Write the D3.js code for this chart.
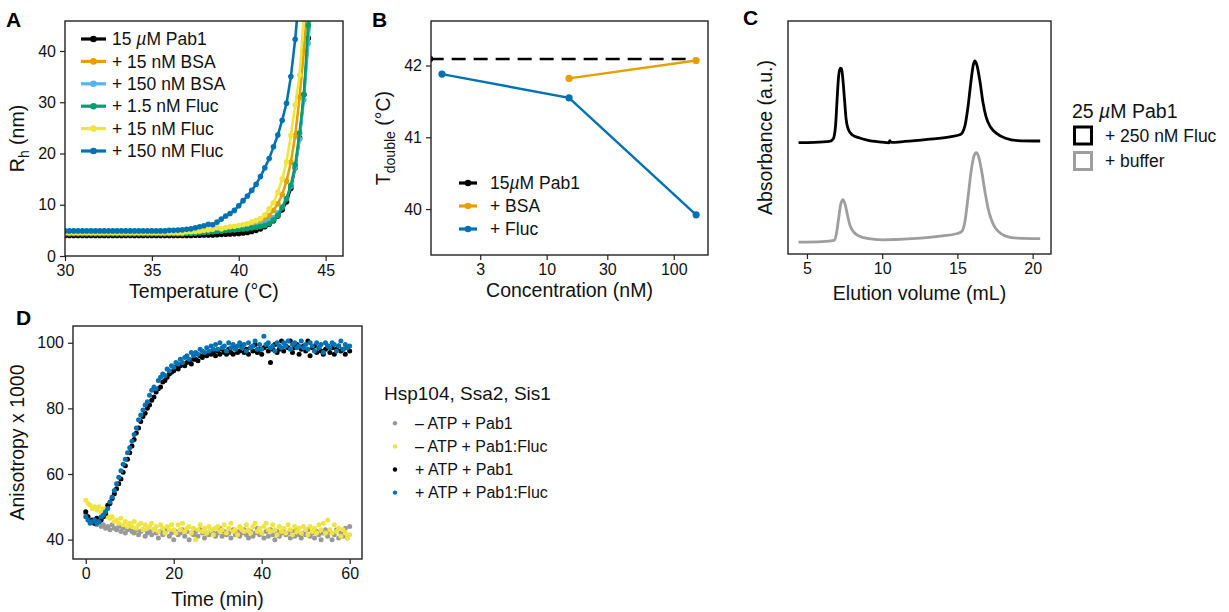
<!DOCTYPE html>
<html>
<head>
<meta charset="utf-8">
<script src="https://cdn.jsdelivr.net/npm/d3@7"></script>
<style>
body { margin: 0; background: #fff; }
svg { font-family: "Liberation Sans", Arial, Helvetica, sans-serif; }
</style>
</head>
<body>
<svg id="fig" width="1229" height="612"></svg>
<script>
// ---- panel A: hydrodynamic radius vs temperature ----
var temps = [30, 30.25, 30.5, 30.75, 31, 31.25, 31.5, 31.75, 32, 32.25, 32.5, 32.75, 33, 33.25, 33.5, 33.75,
  34, 34.25, 34.5, 34.75, 35, 35.25, 35.5, 35.75, 36, 36.25, 36.5, 36.75, 37, 37.25, 37.5, 37.75,
  38, 38.25, 38.5, 38.75, 39, 39.25, 39.5, 39.75, 40, 40.25, 40.5, 40.75, 41, 41.25, 41.5, 41.75,
  42, 42.25, 42.5, 42.75, 43, 43.25, 43.5, 43.75, 44, 44.25];

var rhPab1 = [4.0, 4.0, 4.0, 4.0, 4.0, 4.0, 4.0, 4.0, 4.0, 4.0, 4.0, 4.0, 4.0, 4.0, 4.0, 4.0,
  4.0, 4.0, 4.0, 4.0, 4.0, 4.0, 4.0, 4.0, 4.0, 4.0, 4.0, 4.0, 4.0, 4.0, 4.05, 4.05,
  4.1, 4.1, 4.1, 4.15, 4.2, 4.25, 4.3, 4.35, 4.4, 4.5, 4.6, 4.8, 5.0, 5.3, 5.7, 6.2,
  6.9, 7.8, 9.0, 10.6, 13.2, 17.2, 23.0, 31.5, 42.5, 53];
var rhBsa15 = [4.4, 4.4, 4.4, 4.4, 4.4, 4.4, 4.4, 4.4, 4.4, 4.4, 4.4, 4.4, 4.4, 4.4, 4.4, 4.4,
  4.4, 4.4, 4.4, 4.4, 4.4, 4.4, 4.4, 4.4, 4.4, 4.4, 4.4, 4.4, 4.45, 4.5, 4.55, 4.6,
  4.7, 4.75, 4.8, 4.9, 5.0, 5.1, 5.2, 5.3, 5.45, 5.6, 5.75, 5.95, 6.2, 6.6, 7.1, 7.9,
  8.9, 10.2, 12.0, 14.6, 18.3, 23.5, 31, 40, 51];
var rhBsa150 = [4.8, 4.8, 4.8, 4.8, 4.8, 4.8, 4.8, 4.8, 4.8, 4.8, 4.8, 4.8, 4.8, 4.8, 4.8, 4.8,
  4.8, 4.8, 4.8, 4.8, 4.8, 4.8, 4.8, 4.8, 4.8, 4.8, 4.8, 4.8, 4.85, 4.85, 4.9, 4.9,
  4.95, 5.0, 5.0, 5.05, 5.1, 5.15, 5.2, 5.25, 5.3, 5.4, 5.5, 5.6, 5.75, 6.0, 6.4, 6.9,
  7.5, 8.4, 9.6, 11.2, 13.6, 17.3, 22.8, 30.5, 41.5, 52];
var rhFluc1 = [4.4, 4.4, 4.4, 4.4, 4.4, 4.4, 4.4, 4.4, 4.4, 4.4, 4.4, 4.4, 4.4, 4.4, 4.4, 4.4,
  4.4, 4.4, 4.4, 4.4, 4.4, 4.4, 4.4, 4.4, 4.4, 4.4, 4.4, 4.4, 4.45, 4.5, 4.55, 4.6,
  4.65, 4.7, 4.8, 4.85, 4.9, 5.0, 5.05, 5.1, 5.2, 5.25, 5.35, 5.45, 5.6, 5.75, 5.95, 6.3,
  7.0, 7.9, 9.4, 11.2, 13.8, 17.8, 24, 31.5, 45, 55];
var rhFluc15 = [4.55, 4.55, 4.55, 4.55, 4.55, 4.55, 4.55, 4.55, 4.55, 4.55, 4.55, 4.55, 4.55, 4.55, 4.55, 4.55,
  4.55, 4.55, 4.55, 4.55, 4.55, 4.55, 4.55, 4.55, 4.55, 4.55, 4.55, 4.55, 4.7, 4.75, 4.8, 4.9,
  5.0, 5.1, 5.2, 5.5, 5.3, 5.55, 5.7, 5.8, 5.95, 6.1, 6.3, 6.6, 6.9, 7.3, 8.0, 9.2,
  10.4, 12.5, 15.0, 18.4, 23.5, 29.5, 35.3, 47];
var rhFluc150 = [4.9, 4.9, 4.9, 4.9, 4.9, 4.9, 4.9, 4.9, 4.9, 4.9, 4.9, 4.9, 4.9, 4.9, 4.9, 4.9,
  4.9, 4.9, 4.9, 4.9, 4.9, 4.9, 4.9, 4.9, 5.0, 5.0, 5.05, 5.1, 5.2, 5.3, 5.5, 5.7,
  5.9, 6.2, 6.1, 6.6, 7.2, 7.8, 8.3, 8.9, 9.8, 10.8, 11.7, 12.8, 14.0, 15.5, 17.2, 19.0,
  21.3, 23.6, 26.5, 29.8, 35.0, 42.3, 52];

var seriesA = [
  { name: "15 µM Pab1", values: rhPab1, color: "#000000" },
  { name: "+ 15 nM BSA", values: rhBsa15, color: "#E69F00" },
  { name: "+ 150 nM BSA", values: rhBsa150, color: "#56B4E9" },
  { name: "+ 1.5 nM Fluc", values: rhFluc1, color: "#009E73" },
  { name: "+ 15 nM Fluc", values: rhFluc15, color: "#F0E442" },
  { name: "+ 150 nM Fluc", values: rhFluc150, color: "#0072B2" }
];

// ---- panel B: doubling temperature vs concentration ----
var pab1Conc = [1.2];
var pab1Tdouble = [42.09];
var bsaConc = [15, 150];
var bsaTdouble = [41.82, 42.07];
var flucConc = [1.5, 15, 150];
var flucTdouble = [41.88, 41.55, 39.92];

// ---- panel C: size exclusion traces ----
var secFluc = [[4.44, 47.8], [5.5, 47.9], [6.5, 48.3], [6.75, 49.5], [6.9, 55], [7.0, 66], [7.1, 76], [7.2, 79.8],
  [7.3, 79.5], [7.4, 74], [7.5, 66], [7.6, 58], [7.75, 53.5], [8.0, 51.2], [8.5, 49.8], [9.0, 48.9], [10.0, 48.0],
  [10.45, 47.7], [10.5, 48.6], [10.6, 47.9], [11.5, 48.3], [13, 49.2], [14.5, 50.3], [15.2, 51.3], [15.5, 55],
  [15.7, 63], [15.9, 74], [16.05, 81], [16.15, 82.9], [16.3, 81], [16.5, 74], [16.7, 65], [16.9, 59], [17.2, 54.5],
  [17.6, 51.8], [18.2, 49.7], [19, 48.7], [20.5, 48.5]];
var secBuffer = [[4.44, 5.1], [6.0, 5.3], [6.8, 5.8], [6.95, 8.5], [7.1, 15], [7.25, 21.5], [7.4, 23.3], [7.55, 21],
  [7.7, 16.5], [7.85, 12.5], [8.1, 9.5], [8.5, 7.6], [9.0, 6.7], [10.0, 6.1], [12, 6.6], [14, 7.8], [15.0, 8.8],
  [15.3, 9.8], [15.5, 14], [15.7, 24], [15.9, 35], [16.1, 42], [16.25, 43.5], [16.4, 42], [16.6, 36], [16.85, 26],
  [17.1, 18], [17.4, 12.5], [17.7, 9.8], [18.2, 7.7], [19, 6.8], [20.5, 6.6]];

// ---- panel D: anisotropy vs time ----
var timeMin = [0, 0.5, 1, 1.5, 2, 2.5, 3, 3.5, 4, 4.5, 5, 5.5, 6, 6.5, 7, 7.5, 8, 8.5, 9, 9.5,
  10, 10.5, 11, 11.5, 12, 12.5, 13, 13.5, 14, 14.5, 15, 15.5, 16, 16.5, 17, 17.5, 18, 18.5, 19, 19.5,
  20, 20.5, 21, 21.5, 22, 22.5, 23, 23.5, 24, 24.5, 25, 25.5, 26, 26.5, 27, 27.5, 28, 28.5, 29, 29.5,
  30, 30.5, 31, 31.5, 32, 32.5, 33, 33.5, 34, 34.5, 35, 35.5, 36, 36.5, 37, 37.5, 38, 38.5, 39, 39.5,
  40, 40.5, 41, 41.5, 42, 42.5, 43, 43.5, 44, 44.5, 45, 45.5, 46, 46.5, 47, 47.5, 48, 48.5, 49, 49.5,
  50, 50.5, 51, 51.5, 52, 52.5, 53, 53.5, 54, 54.5, 55, 55.5, 56, 56.5, 57, 57.5, 58, 58.5, 59, 59.5, 60];

var noAtpPab1 = [48, 47, 46, 45.5, 45, 44.5, 45, 44, 44.5, 43.5,
  44, 43, 44.5, 43.5, 43, 44, 42.5, 43.5, 42, 43,
  43.5, 42.5, 42, 43, 41.5, 42.5, 43, 41, 42, 42.5,
  41.5, 43, 42, 40.5, 42.5, 41.5, 42, 43, 41, 42,
  40, 42.5, 41.5, 42, 43, 41, 42.5, 40, 42, 41.5,
  42.5, 41, 43, 42, 40.5, 42, 41.5, 43, 42, 41,
  42, 43.5, 41, 42.5, 41.5, 42, 40.5, 43, 41.5, 42.5,
  41, 42, 43, 41.5, 40.5, 42.5, 41, 42, 43.5, 41.5,
  42, 40.5, 42.5, 41, 43, 41.5, 40, 42.5, 41, 42,
  43, 41.5, 42, 40.5, 42.5, 41, 43, 41.5, 40.5, 42,
  41.5, 43, 41, 42, 40.5, 42.5, 41.5, 40, 42, 43,
  41, 42.5, 40, 41.5, 43, 40.5, 42, 41, 43.5, 40.5,
  44];
var noAtpFluc = [52, 51, 50.5, 49.5, 50, 49, 50, 48.5, 49.5, 47.5,
  47, 46.5, 47, 45.5, 46, 45, 46.5, 44.5, 45.5, 44,
  45, 44, 45.5, 43.5, 44.5, 45, 43, 44.5, 43.5, 44,
  45, 43, 44, 42.5, 44.5, 43.5, 42, 44, 43, 44.5,
  43, 42, 44.5, 43, 45, 42.5, 43.5, 44, 42, 43.5,
  40, 43, 44.5, 42.5, 43.5, 42, 44, 43, 41.5, 43.5,
  44, 42.5, 43, 44.5, 42, 43.5, 45, 42.5, 43, 41.5,
  44, 43, 42.5, 44.5, 43, 42, 44, 45, 42.5, 43.5,
  42, 44, 45, 43, 42.5, 44.5, 43, 41.5, 44, 42.5,
  43.5, 42, 44.5, 43, 41.5, 44, 42.5, 43.5, 42, 44,
  43, 41.5, 44, 42.5, 43.5, 42, 44.5, 43, 45, 42,
  46, 43, 42, 44.5, 42.5, 43.5, 41, 43, 42, 40.5,
  41.5];
var atpPab1 = [48.5, 47, 45.5, 46, 45, 46.5, 45.5, 46, 47, 48,
  50.5, 51, 52.5, 54, 55.5, 57, 58.5, 60.5, 62.5, 64.5,
  66.5, 68.5, 70.5, 72.5, 74, 76, 77.5, 78.5, 80, 81,
  82.5, 83.5, 85, 86, 86.5, 88, 88.5, 89.5, 90.5, 91,
  91.5, 92.5, 92, 93, 93.5, 93, 94, 94.5, 93.5, 95,
  95, 94.5, 96, 95.5, 96.5, 96, 97, 96.5, 97, 96,
  97.5, 96.5, 98, 97, 96.5, 98, 97, 96.5, 98.5, 97,
  97.5, 99, 97, 98, 96.5, 98.5, 97.5, 99.5, 97, 98,
  96.5, 98.5, 99, 97.5, 94, 98, 99.5, 97, 98, 100.5,
  97.5, 99, 98.5, 100.5, 97, 98.5, 99.5, 96.5, 98, 99,
  97.5, 100.5, 96, 98.5, 99, 97, 98.5, 97.5, 96.5, 98,
  99, 97, 98.5, 96.5, 98, 99, 97.5, 98, 96.5, 98.5,
  97.5];
var atpFluc = [47, 46, 45, 45.5, 46, 45, 45.5, 47, 47.5, 48.5,
  49.5, 51.5, 53, 55, 57, 59, 61, 63, 64.5, 66.5,
  68, 70, 72, 74, 76.5, 78, 79.5, 81, 82, 84,
  85.5, 86.5, 86, 88.5, 89.5, 90.5, 90, 92, 91.5, 93,
  92.5, 94, 93.5, 95, 94, 95.5, 96, 95, 97, 96,
  97, 96.5, 98, 97.5, 97, 98.5, 97.5, 99, 98, 99.5,
  98, 100, 98.5, 99, 97.5, 100, 98.5, 99.5, 98, 99,
  100, 98.5, 99.5, 97.5, 100, 98.5, 99, 100.5, 98, 99.5,
  98, 102, 99.5, 100, 98.5, 99, 97.5, 100, 99, 98.5,
  100, 99, 100.5, 98, 99.5, 100, 98.5, 99, 100.5, 98.5,
  99.5, 98, 100, 99, 97.5, 100, 98.5, 99.5, 97, 100,
  99, 98.5, 100, 99.5, 97.5, 99, 100.5, 98, 99.5, 98.5,
  99];

var seriesD = [
  { name: "– ATP + Pab1", values: noAtpPab1, color: "#999999" },
  { name: "– ATP + Pab1:Fluc", values: noAtpFluc, color: "#F0E442" },
  { name: "+ ATP + Pab1", values: atpPab1, color: "#000000" },
  { name: "+ ATP + Pab1:Fluc", values: atpFluc, color: "#0072B2" }
];

var svg = d3.select("#fig");
var defs = svg.append("defs");

function makePanel(id, b) {
  defs.append("clipPath").attr("id", "clip" + id)
    .append("rect").attr("x", b.l).attr("y", b.t).attr("width", b.r - b.l).attr("height", b.b - b.t);
  var g = svg.append("g");
  var plot = g.append("g").attr("clip-path", "url(#clip" + id + ")");
  return { g: g, plot: plot };
}

function frame(g, b) {
  g.append("rect")
    .attr("x", b.l).attr("y", b.t)
    .attr("width", b.r - b.l).attr("height", b.b - b.t)
    .attr("fill", "none").attr("stroke", "#222").attr("stroke-width", 1.4);
}

function styleAxis(ax) {
  ax.attr("font-size", 16).attr("font-family", null);
  ax.select(".domain").remove();
  ax.selectAll(".tick line").attr("stroke", "#222").attr("stroke-width", 1.2);
  ax.selectAll(".tick text").attr("fill", "#111");
}

function xAxis(g, b, x, ticks) {
  var ax = g.append("g").attr("transform", "translate(0," + b.b + ")")
    .call(d3.axisBottom(x).tickValues(ticks).tickSize(5).tickPadding(4).tickFormat(d3.format("d")));
  styleAxis(ax);
}

function yAxis(g, b, y, ticks) {
  var ax = g.append("g").attr("transform", "translate(" + b.l + ",0)")
    .call(d3.axisLeft(y).tickValues(ticks).tickSize(5).tickPadding(4).tickFormat(d3.format("d")));
  styleAxis(ax);
}

function xTitle(g, xc, yb, txt) {
  g.append("text").attr("x", xc).attr("y", yb).attr("text-anchor", "middle")
    .attr("font-size", 19.5).attr("fill", "#111").text(txt);
}

function yTitle(g, xb, yc) {
  return g.append("text").attr("transform", "translate(" + xb + "," + yc + ") rotate(-90)")
    .attr("text-anchor", "middle").attr("font-size", 19.5).attr("fill", "#111");
}

function panelLabel(x, y, t) {
  svg.append("text").attr("x", x).attr("y", y).attr("font-size", 21)
    .attr("font-weight", "bold").attr("fill", "#000").text(t);
}

function muText(sel, before, after) {
  sel.append("tspan").text(before);
  sel.append("tspan").attr("font-style", "italic").text("µ");
  sel.append("tspan").text(after);
}

// ================= A =================
var bA = { l: 65, r: 343, t: 21, b: 256 };
var pA = makePanel("A", bA);
var xA = d3.scaleLinear().domain([30, 46]).range([bA.l, bA.r]);
var yA = d3.scaleLinear().domain([0, 45.85]).range([bA.b, bA.t]);
var lineA = d3.line().x(function(d) { return xA(d[0]); }).y(function(d) { return yA(d[1]); });

seriesA.forEach(function(s) {
  var pts = s.values.map(function(v, i) { return [temps[i], v]; });
  pA.plot.append("path").datum(pts).attr("d", lineA)
    .attr("fill", "none").attr("stroke", s.color).attr("stroke-width", 2.6);
  pA.plot.selectAll(null).data(pts).enter().append("circle")
    .attr("cx", function(d) { return xA(d[0]); })
    .attr("cy", function(d) { return yA(d[1]); })
    .attr("r", 2.8).attr("fill", s.color);
});
frame(pA.g, bA);
xAxis(pA.g, bA, xA, [30, 35, 40, 45]);
yAxis(pA.g, bA, yA, [0, 10, 20, 30, 40]);
xTitle(pA.g, (bA.l + bA.r) / 2, 298, "Temperature (°C)");
var tA = yTitle(pA.g, 24, (bA.t + bA.b) / 2);
tA.append("tspan").text("R");
tA.append("tspan").attr("font-size", 14).attr("dy", 5).text("h");
tA.append("tspan").attr("dy", -5).text(" (nm)");

var legA = pA.g.append("g");
seriesA.forEach(function(s, i) {
  var yy = 39 + i * 22.4;
  legA.append("line").attr("x1", 81).attr("x2", 106).attr("y1", yy).attr("y2", yy)
    .attr("stroke", s.color).attr("stroke-width", 3.2);
  legA.append("circle").attr("cx", 93.5).attr("cy", yy).attr("r", 3.3).attr("fill", s.color);
  var t = legA.append("text").attr("x", 112).attr("y", yy).attr("dy", "0.35em")
    .attr("font-size", 17.5).attr("fill", "#111");
  if (i === 0) muText(t, "15 ", "M Pab1"); else t.text(s.name);
});
panelLabel(6, 27, "A");

// ================= B =================
var bB = { l: 431, r: 708, t: 21, b: 255 };
var pB = makePanel("B", bB);
var xB = d3.scaleLog().domain([1.23, 186]).range([bB.l, bB.r]);
var yB = d3.scaleLinear().domain([39.36, 42.62]).range([bB.b, bB.t]);
var lineB = d3.line().x(function(d) { return xB(d[0]); }).y(function(d) { return yB(d[1]); });

// Pab1 alone: dashed reference level across the concentration range
pB.plot.append("line")
  .attr("x1", xB(pab1Conc[0])).attr("x2", xB(d3.max(flucConc)))
  .attr("y1", yB(pab1Tdouble[0])).attr("y2", yB(pab1Tdouble[0]))
  .attr("stroke", "#000").attr("stroke-width", 2.6).attr("stroke-dasharray", "14,8");
pB.plot.append("circle").attr("cx", xB(pab1Conc[0])).attr("cy", yB(pab1Tdouble[0]))
  .attr("r", 3.6).attr("fill", "#000");

var seriesB = [
  { conc: bsaConc, temp: bsaTdouble, color: "#E69F00" },
  { conc: flucConc, temp: flucTdouble, color: "#0072B2" }
];
seriesB.forEach(function(s) {
  var pts = s.conc.map(function(c, i) { return [c, s.temp[i]]; });
  pB.plot.append("path").datum(pts).attr("d", lineB)
    .attr("fill", "none").attr("stroke", s.color).attr("stroke-width", 2.4);
  pB.plot.selectAll(null).data(pts).enter().append("circle")
    .attr("cx", function(d) { return xB(d[0]); })
    .attr("cy", function(d) { return yB(d[1]); })
    .attr("r", 3.6).attr("fill", s.color);
});
frame(pB.g, bB);
xAxis(pB.g, bB, xB, [3, 10, 30, 100]);
yAxis(pB.g, bB, yB, [40, 41, 42]);
xTitle(pB.g, (bB.l + bB.r) / 2, 297, "Concentration (nM)");
var tB = yTitle(pB.g, 390, (bB.t + bB.b) / 2);
tB.append("tspan").text("T");
tB.append("tspan").attr("font-size", 14).attr("dy", 5).text("double");
tB.append("tspan").attr("dy", -5).text(" (°C)");

var legendB = [
  { name: "15µM Pab1", color: "#000000" },
  { name: "+ BSA", color: "#E69F00" },
  { name: "+ Fluc", color: "#0072B2" }
];
var legB = pB.g.append("g");
legendB.forEach(function(s, i) {
  var yy = 183 + i * 23;
  legB.append("line").attr("x1", 459).attr("x2", 477).attr("y1", yy).attr("y2", yy)
    .attr("stroke", s.color).attr("stroke-width", 3.2);
  legB.append("circle").attr("cx", 468).attr("cy", yy).attr("r", 3.3).attr("fill", s.color);
  var t = legB.append("text").attr("x", 490).attr("y", yy).attr("dy", "0.35em")
    .attr("font-size", 17.5).attr("fill", "#111");
  if (i === 0) muText(t, "15", "M Pab1"); else t.text(s.name);
});
panelLabel(372, 27, "B");

// ================= C =================
var bC = { l: 788, r: 1051, t: 21, b: 254 };
var pC = makePanel("C", bC);
var xC = d3.scaleLinear().domain([3.74, 21.22]).range([bC.l, bC.r]);
var yC = d3.scaleLinear().domain([0, 100]).range([bC.b, bC.t]);
var lineC = d3.line().curve(d3.curveMonotoneX)
  .x(function(d) { return xC(d[0]); }).y(function(d) { return yC(d[1]); });

var seriesC = [
  { name: "+ 250 nM Fluc", values: secFluc, color: "#000000" },
  { name: "+ buffer", values: secBuffer, color: "#9e9e9e" }
];
seriesC.forEach(function(s) {
  pC.plot.append("path").datum(s.values).attr("d", lineC)
    .attr("fill", "none").attr("stroke", s.color).attr("stroke-width", 2.8)
    .attr("stroke-linejoin", "round");
});
frame(pC.g, bC);
xAxis(pC.g, bC, xC, [5, 10, 15, 20]);
xTitle(pC.g, (bC.l + bC.r) / 2, 300, "Elution volume (mL)");
yTitle(pC.g, 772, (bC.t + bC.b) / 2).text("Absorbance (a.u.)");

var legC = pC.g.append("g");
muText(legC.append("text").attr("x", 1072).attr("y", 118).attr("font-size", 19.5).attr("fill", "#111"), "25 ", "M Pab1");
seriesC.forEach(function(s, i) {
  var yy = 127 + i * 25.5;
  legC.append("rect").attr("x", 1074.5).attr("y", yy).attr("width", 17).attr("height", 17)
    .attr("fill", "none").attr("stroke", s.color).attr("stroke-width", 3);
  legC.append("text").attr("x", 1105).attr("y", yy + 8.5).attr("dy", "0.35em")
    .attr("font-size", 17.5).attr("fill", "#111").text(s.name);
});
panelLabel(743, 25, "C");

// ================= D =================
var bD = { l: 73, r: 362, t: 326, b: 559 };
var pD = makePanel("D", bD);
var xD = d3.scaleLinear().domain([-2.9, 62.8]).range([bD.l, bD.r]);
var yD = d3.scaleLinear().domain([34.1, 105.1]).range([bD.b, bD.t]);

seriesD.forEach(function(s) {
  pD.plot.selectAll(null).data(s.values).enter().append("circle")
    .attr("cx", function(d, i) { return xD(timeMin[i]); })
    .attr("cy", function(d) { return yD(d); })
    .attr("r", 2.5).attr("fill", s.color);
});
frame(pD.g, bD);
xAxis(pD.g, bD, xD, [0, 20, 40, 60]);
yAxis(pD.g, bD, yD, [40, 60, 80, 100]);
xTitle(pD.g, (bD.l + bD.r) / 2, 606, "Time (min)");
yTitle(pD.g, 24, (bD.t + bD.b) / 2).text("Anisotropy x 1000");

var legD = pD.g.append("g");
legD.append("text").attr("x", 384).attr("y", 400).attr("font-size", 19).attr("fill", "#111")
  .text("Hsp104, Ssa2, Sis1");
seriesD.forEach(function(s, i) {
  var yy = 423.3 + i * 23.1;
  legD.append("circle").attr("cx", 395).attr("cy", yy).attr("r", 2.2).attr("fill", s.color);
  legD.append("text").attr("x", 415).attr("y", yy).attr("dy", "0.35em")
    .attr("font-size", 16).attr("fill", "#111").text(s.name);
});
panelLabel(16, 325, "D");
</script>
</body>
</html>
